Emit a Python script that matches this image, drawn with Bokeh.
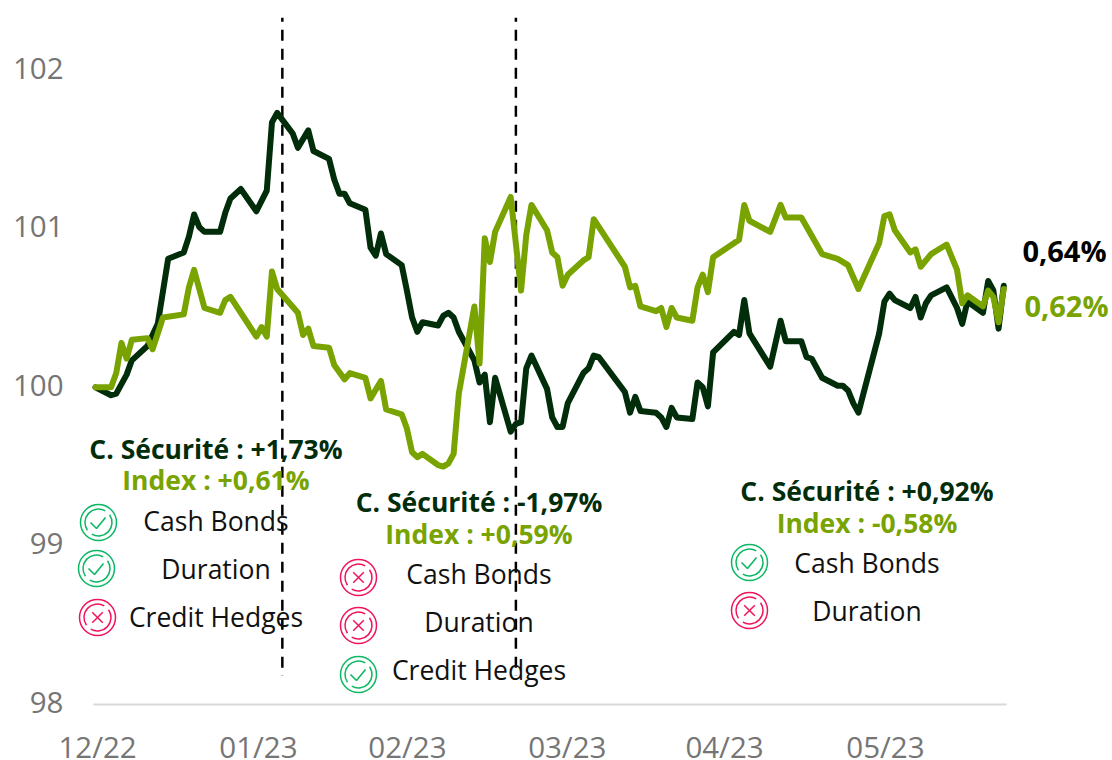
from bokeh.plotting import figure
from bokeh.models import Label, FixedTicker
from bokeh.embed import file_html
from bokeh.resources import INLINE
import math

dark_days = [0,3,4,6,7,10,12,14,17,18,19,20,21,24,25,26,28,31,33,34,35,38,39,41,42,45,46,47,48,49,52,53,54,55,56,59,60,61,62,63,66,67,68,69,70,73,74,75,76,77,80,81,82,83,84,87,88,89,90,91,94,95,96,97,102,103,104,105,108,109,110,111,112,115,116,117,118,119,123,124,125,126,130,132,133,136,137,138,140,143,144,145,146,147,151,152,153,154,157,158,159,160,161,164,166,167,168,171,172,173,174,175]
dark_vals = [100.00,99.95,99.96,100.08,100.17,100.26,100.40,100.81,100.85,100.95,101.09,101.01,100.98,100.98,101.10,101.19,101.25,101.11,101.24,101.67,101.73,101.60,101.51,101.62,101.49,101.44,101.31,101.22,101.22,101.16,101.12,100.88,100.83,100.97,100.84,100.77,100.61,100.44,100.35,100.41,100.39,100.45,100.47,100.44,100.35,100.17,100.03,100.08,99.78,100.06,99.72,99.77,99.78,100.12,100.20,99.99,99.81,99.75,99.75,99.90,100.09,100.12,100.20,100.19,99.97,99.84,99.94,99.85,99.84,99.81,99.75,99.87,99.81,99.80,100.03,100.00,99.88,100.22,100.35,100.33,100.55,100.34,100.13,100.42,100.29,100.29,100.19,100.18,100.06,100.01,100.01,99.98,99.90,99.84,100.34,100.54,100.59,100.55,100.50,100.57,100.44,100.53,100.58,100.63,100.50,100.40,100.54,100.47,100.67,100.61,100.37,100.64]

light_days = [0,3,4,5,6,7,10,11,13,17,18,19,21,24,25,26,28,31,32,33,34,35,39,40,41,42,45,46,48,49,52,53,55,56,59,60,61,62,63,66,67,68,69,70,73,74,75,76,77,80,82,83,84,87,88,89,90,91,94,95,96,102,103,104,105,108,109,110,111,112,115,116,117,118,119,124,125,126,130,132,133,136,140,143,145,147,151,152,153,154,157,158,159,161,164,166,167,168,171,172,173,174,175]
light_vals = [100.00,100.00,100.09,100.28,100.18,100.30,100.31,100.24,100.44,100.46,100.63,100.74,100.50,100.47,100.55,100.57,100.47,100.32,100.38,100.32,100.73,100.62,100.47,100.33,100.37,100.26,100.25,100.14,100.05,100.09,100.06,99.93,100.04,99.86,99.83,99.74,99.59,99.56,99.58,99.51,99.50,99.52,99.58,99.96,100.51,100.15,100.94,100.79,100.98,101.20,100.61,100.96,101.15,100.99,100.85,100.82,100.64,100.71,100.80,100.82,101.06,100.76,100.63,100.64,100.51,100.48,100.50,100.38,100.50,100.44,100.42,100.63,100.71,100.60,100.82,100.93,101.15,101.05,100.98,101.15,101.07,101.07,100.84,100.81,100.77,100.62,100.91,101.08,101.09,100.99,100.85,100.87,100.76,100.84,100.90,100.74,100.53,100.58,100.51,100.61,100.57,100.41,100.62]

x_tick_pos = [0.4,31.4,60.1,90.9,121.2,152.2]
x_tick_labels = ["12/22","01/23","02/23","03/23","04/23","05/23"]
y_ticks = [98,99,100,101,102]
event_days = [36,81]
event_low = 98.18
event_high = 102.33

end_labels = ["0,64%","0,62%"]
groups = [
    ("C. Sécurité : +1,73%","Index : +0,61%",[("Cash Bonds",True),("Duration",True),("Credit Hedges",False)]),
    ("C. Sécurité : -1,97%","Index : +0,59%",[("Cash Bonds",False),("Duration",False),("Credit Hedges",True)]),
    ("C. Sécurité : +0,92%","Index : -0,58%",[("Cash Bonds",True),("Duration",False)]),
]

DARK="#022D0A"; LIGHT="#78A300"; GREY="#757575"; GOOD="#0DB864"; BAD="#F0145A"; FONT="Open Sans"

W,H=1112,760
PX0,PXS=95,5.19       # page px of day 0, px per day
Y98=704; PY=158.6
xa=lambda px:(px-PX0)/PXS
ya=lambda py:98+(Y98-py)/PY

# the frame fills the whole figure, so that no label is clipped; both axes sit at fixed locations
p=figure(width=W,height=H,x_range=(xa(0),xa(W)),y_range=(ya(H),ya(0)),output_backend="svg",toolbar_location=None,
         min_border=0,outline_line_color=None)
p.grid.visible=False
y_tick_pos=[v+0.0125 for v in y_ticks]
p.xaxis.ticker=FixedTicker(ticks=x_tick_pos)
p.xaxis.major_label_overrides=dict(zip(x_tick_pos,x_tick_labels))
p.xaxis.fixed_location=98
p.yaxis.ticker=FixedTicker(ticks=y_tick_pos)
p.yaxis.major_label_overrides=dict(zip(y_tick_pos,[str(v) for v in y_ticks]))
p.yaxis.fixed_location=xa(70)
for ax in (p.xaxis,p.yaxis):
    ax.major_tick_line_color=None; ax.minor_tick_line_color=None
    ax.major_tick_out=0; ax.major_tick_in=0
    ax.major_label_text_font=FONT; ax.major_label_text_font_size="29.5px"
    ax.major_label_text_color=GREY
p.yaxis.axis_line_color=None
p.yaxis.major_label_standoff=7
p.xaxis.bounds=(xa(93),xa(1006))
p.xaxis.axis_line_color="#D9D9D9"; p.xaxis.axis_line_width=2
p.xaxis.major_label_standoff=21

for d in event_days:
    p.line([d,d],[event_high,event_low],line_color="black",line_width=2.5,line_dash="11 8",line_dash_offset=7)
p.line(dark_days,dark_vals,line_color=DARK,line_width=6,line_join="round",line_cap="round")
p.line(light_days,light_vals,line_color=LIGHT,line_width=6,line_join="round",line_cap="round")

def txt(cx,cy,s,color,size,bold=False,align="center"):
    p.add_layout(Label(x=xa(cx-1),y=ya(cy-1.5),text=s,text_color=color,text_font=FONT,text_font_size=f"{size}px",
        text_font_style="bold" if bold else "normal",text_align=align,text_baseline="middle"))

def icon(cx,cy,good):
    c=GOOD if good else BAD
    x,y=xa(cx),ya(cy)
    p.scatter([x],[y],marker="circle",size=36,fill_color=None,line_color=c,line_width=1.5)
    p.arc([x],[y],radius=13.5,radius_units="screen",start_angle=math.radians(60),end_angle=math.radians(215),line_color=c,line_width=1.5)
    p.arc([x],[y],radius=13.5,radius_units="screen",start_angle=math.radians(240),end_angle=math.radians(395),line_color=c,line_width=1.5)
    if good:
        p.line([xa(cx-8),xa(cx-2),xa(cx+7)],[ya(cy),ya(cy+6),ya(cy-5)],line_color=c,line_width=1.6)
    else:
        p.scatter([x],[y],marker="x",size=15,line_color=c,line_width=1.5)

centers=[216.5,479.5,867.5]
head_y=[(450,481),(503,535),(492,524)]
row_y=[[522,570,618],[575,623,671],[564,612]]
icon_xy=[[(98,522),(96,568),(97,617)],[(358,577),(358,625),(358,674)],[(749,562),(749,610)]]
for (a,b,rows),cx,hy,ry,ixy in zip(groups,centers,head_y,row_y,icon_xy):
    txt(cx,hy[0],a,DARK,26.5,True)
    txt(cx,hy[1],b,LIGHT,26.5,True)
    for (name,good),yy,(ix,iy) in zip(rows,ry,ixy):
        txt(cx,yy,name,"#111111",26.5)
        icon(ix,iy,good)

txt(1065,251,end_labels[0],"#000000",29,True)
txt(1067,306,end_labels[1],LIGHT,29,True)

open("out.html","w").write(file_html(p,INLINE))
